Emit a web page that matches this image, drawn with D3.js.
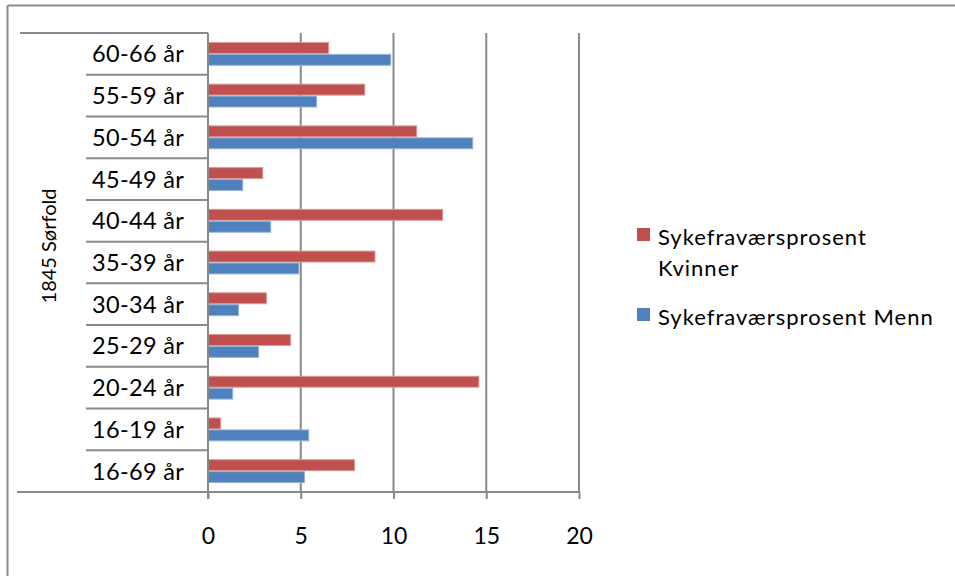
<!DOCTYPE html>
<html>
<head>
<meta charset="utf-8">
<script src="https://cdn.jsdelivr.net/npm/d3@7"></script>
<style>
  html, body { margin: 0; padding: 0; background: #fff; }
  svg { display: block; }
  text { font-family: Lato, "Open Sans", sans-serif; fill: #000; }
</style>
</head>
<body>
<svg id="chart" width="955" height="576"></svg>
<script>
const categories = ["60-66 år", "55-59 år", "50-54 år", "45-49 år", "40-44 år", "35-39 år", "30-34 år", "25-29 år", "20-24 år", "16-19 år", "16-69 år"];
const kvinner = [6.5, 8.45, 11.25, 2.95, 12.65, 9.0, 3.15, 4.45, 14.6, 0.68, 7.9];
const menn = [9.85, 5.85, 14.27, 1.87, 3.38, 4.9, 1.65, 2.73, 1.33, 5.43, 5.2];
const seriesNames = ["Sykefraværsprosent Kvinner", "Sykefraværsprosent Menn"];
const xTicks = [0, 5, 10, 15, 20];
const groupLabel = "1845 Sørfold";

const colors = ["#C0504D", "#4F81BD"];
const strokes = ["#D99795", "#95B3D7"];
const gridColor = "#898989";

const svg = d3.select("#chart");

// outer border (only top and left are visible in frame)
svg.append("line").attr("x1", 7.5).attr("x2", 955).attr("y1", 5.5).attr("y2", 5.5)
  .attr("stroke", "#8c8c8c").attr("stroke-width", 2);
svg.append("line").attr("x1", 7.5).attr("x2", 7.5).attr("y1", 5.5).attr("y2", 576)
  .attr("stroke", "#8c8c8c").attr("stroke-width", 2);

const plot = { left: 208, right: 579, top: 33, bottom: 492 };

const x = d3.scaleLinear().domain([0, 20]).range([plot.left, plot.right]);
const y = d3.scaleBand().domain(categories).range([plot.top, plot.bottom]).padding(0);
const bw = y.bandwidth();
const groupH = bw / 1.75;
const ys = d3.scaleBand().domain([0, 1]).range([(bw - groupH) / 2, (bw + groupH) / 2]);

// gridlines
svg.append("g").selectAll("line").data(xTicks.filter(t => t > 0)).join("line")
  .attr("x1", d => x(d)).attr("x2", d => x(d))
  .attr("y1", plot.top).attr("y2", plot.bottom)
  .attr("stroke", gridColor).attr("stroke-width", 2);

// bars
const rows = categories.map((c, i) => ({ c, v: [kvinner[i], menn[i]] }));
const g = svg.append("g");
rows.forEach(r => {
  r.v.forEach((v, s) => {
    g.append("rect")
      .attr("x", x(0) + 0.5)
      .attr("y", y(r.c) + ys(s) + 0.5)
      .attr("width", Math.max(0, x(v) - x(0) - 0.5))
      .attr("height", ys.bandwidth() - 1)
      .attr("fill", colors[s])
      .attr("stroke", strokes[s])
      .attr("stroke-width", 1);
  });
});

// bottom value axis
const xAxis = d3.axisBottom(x).tickValues(xTicks).tickSize(7).tickPadding(29).tickSizeOuter(0);
const ax = svg.append("g").attr("transform", `translate(0,${plot.bottom})`).call(xAxis);
ax.select(".domain").remove();
ax.selectAll(".tick line").attr("stroke", gridColor).attr("stroke-width", 2);
ax.selectAll(".tick text").attr("font-size", 23).style("font-family", "Lato, sans-serif").attr("fill", "#000");

// axis lines
svg.append("line").attr("x1", 17).attr("x2", plot.right + 1).attr("y1", plot.bottom).attr("y2", plot.bottom)
  .attr("stroke", gridColor).attr("stroke-width", 2);
svg.append("line").attr("x1", plot.left).attr("x2", plot.left).attr("y1", plot.top).attr("y2", plot.bottom + 7)
  .attr("stroke", gridColor).attr("stroke-width", 2);
svg.append("line").attr("x1", 20).attr("x2", plot.left).attr("y1", plot.top).attr("y2", plot.top)
  .attr("stroke", gridColor).attr("stroke-width", 2);

// category separators
svg.append("g").selectAll("line").data(categories.slice(1)).join("line")
  .attr("x1", 86).attr("x2", plot.left)
  .attr("y1", d => y(d)).attr("y2", d => y(d))
  .attr("stroke", gridColor).attr("stroke-width", 2);

// category labels
svg.append("g").selectAll("text").data(categories).join("text")
  .attr("x", 184).attr("y", d => y(d) + bw / 2)
  .attr("dy", "0.36em")
  .attr("text-anchor", "end")
  .attr("font-size", 23.5)
  .attr("letter-spacing", 0.3)
  .text(d => d);

// group label (rotated)
svg.append("text")
  .attr("transform", `translate(56,246) rotate(-90)`)
  .attr("text-anchor", "middle")
  .attr("font-size", 20)
  .text(groupLabel);

// legend
const legend = svg.append("g");
const legendItems = [
  { lines: ["Sykefraværsprosent", "Kvinner"], y: 228 },
  { lines: ["Sykefraværsprosent Menn"], y: 308 }
];
legendItems.forEach((it, i) => {
  legend.append("rect").attr("x", 637).attr("y", it.y).attr("width", 13).attr("height", 13)
    .attr("fill", colors[i]);
  it.lines.forEach((ln, j) => {
    legend.append("text").attr("x", 658).attr("y", it.y + 9 + j * 31)
      .attr("dy", "0.36em").attr("font-size", 22).attr("letter-spacing", 1).text(ln);
  });
});
</script>
</body>
</html>
